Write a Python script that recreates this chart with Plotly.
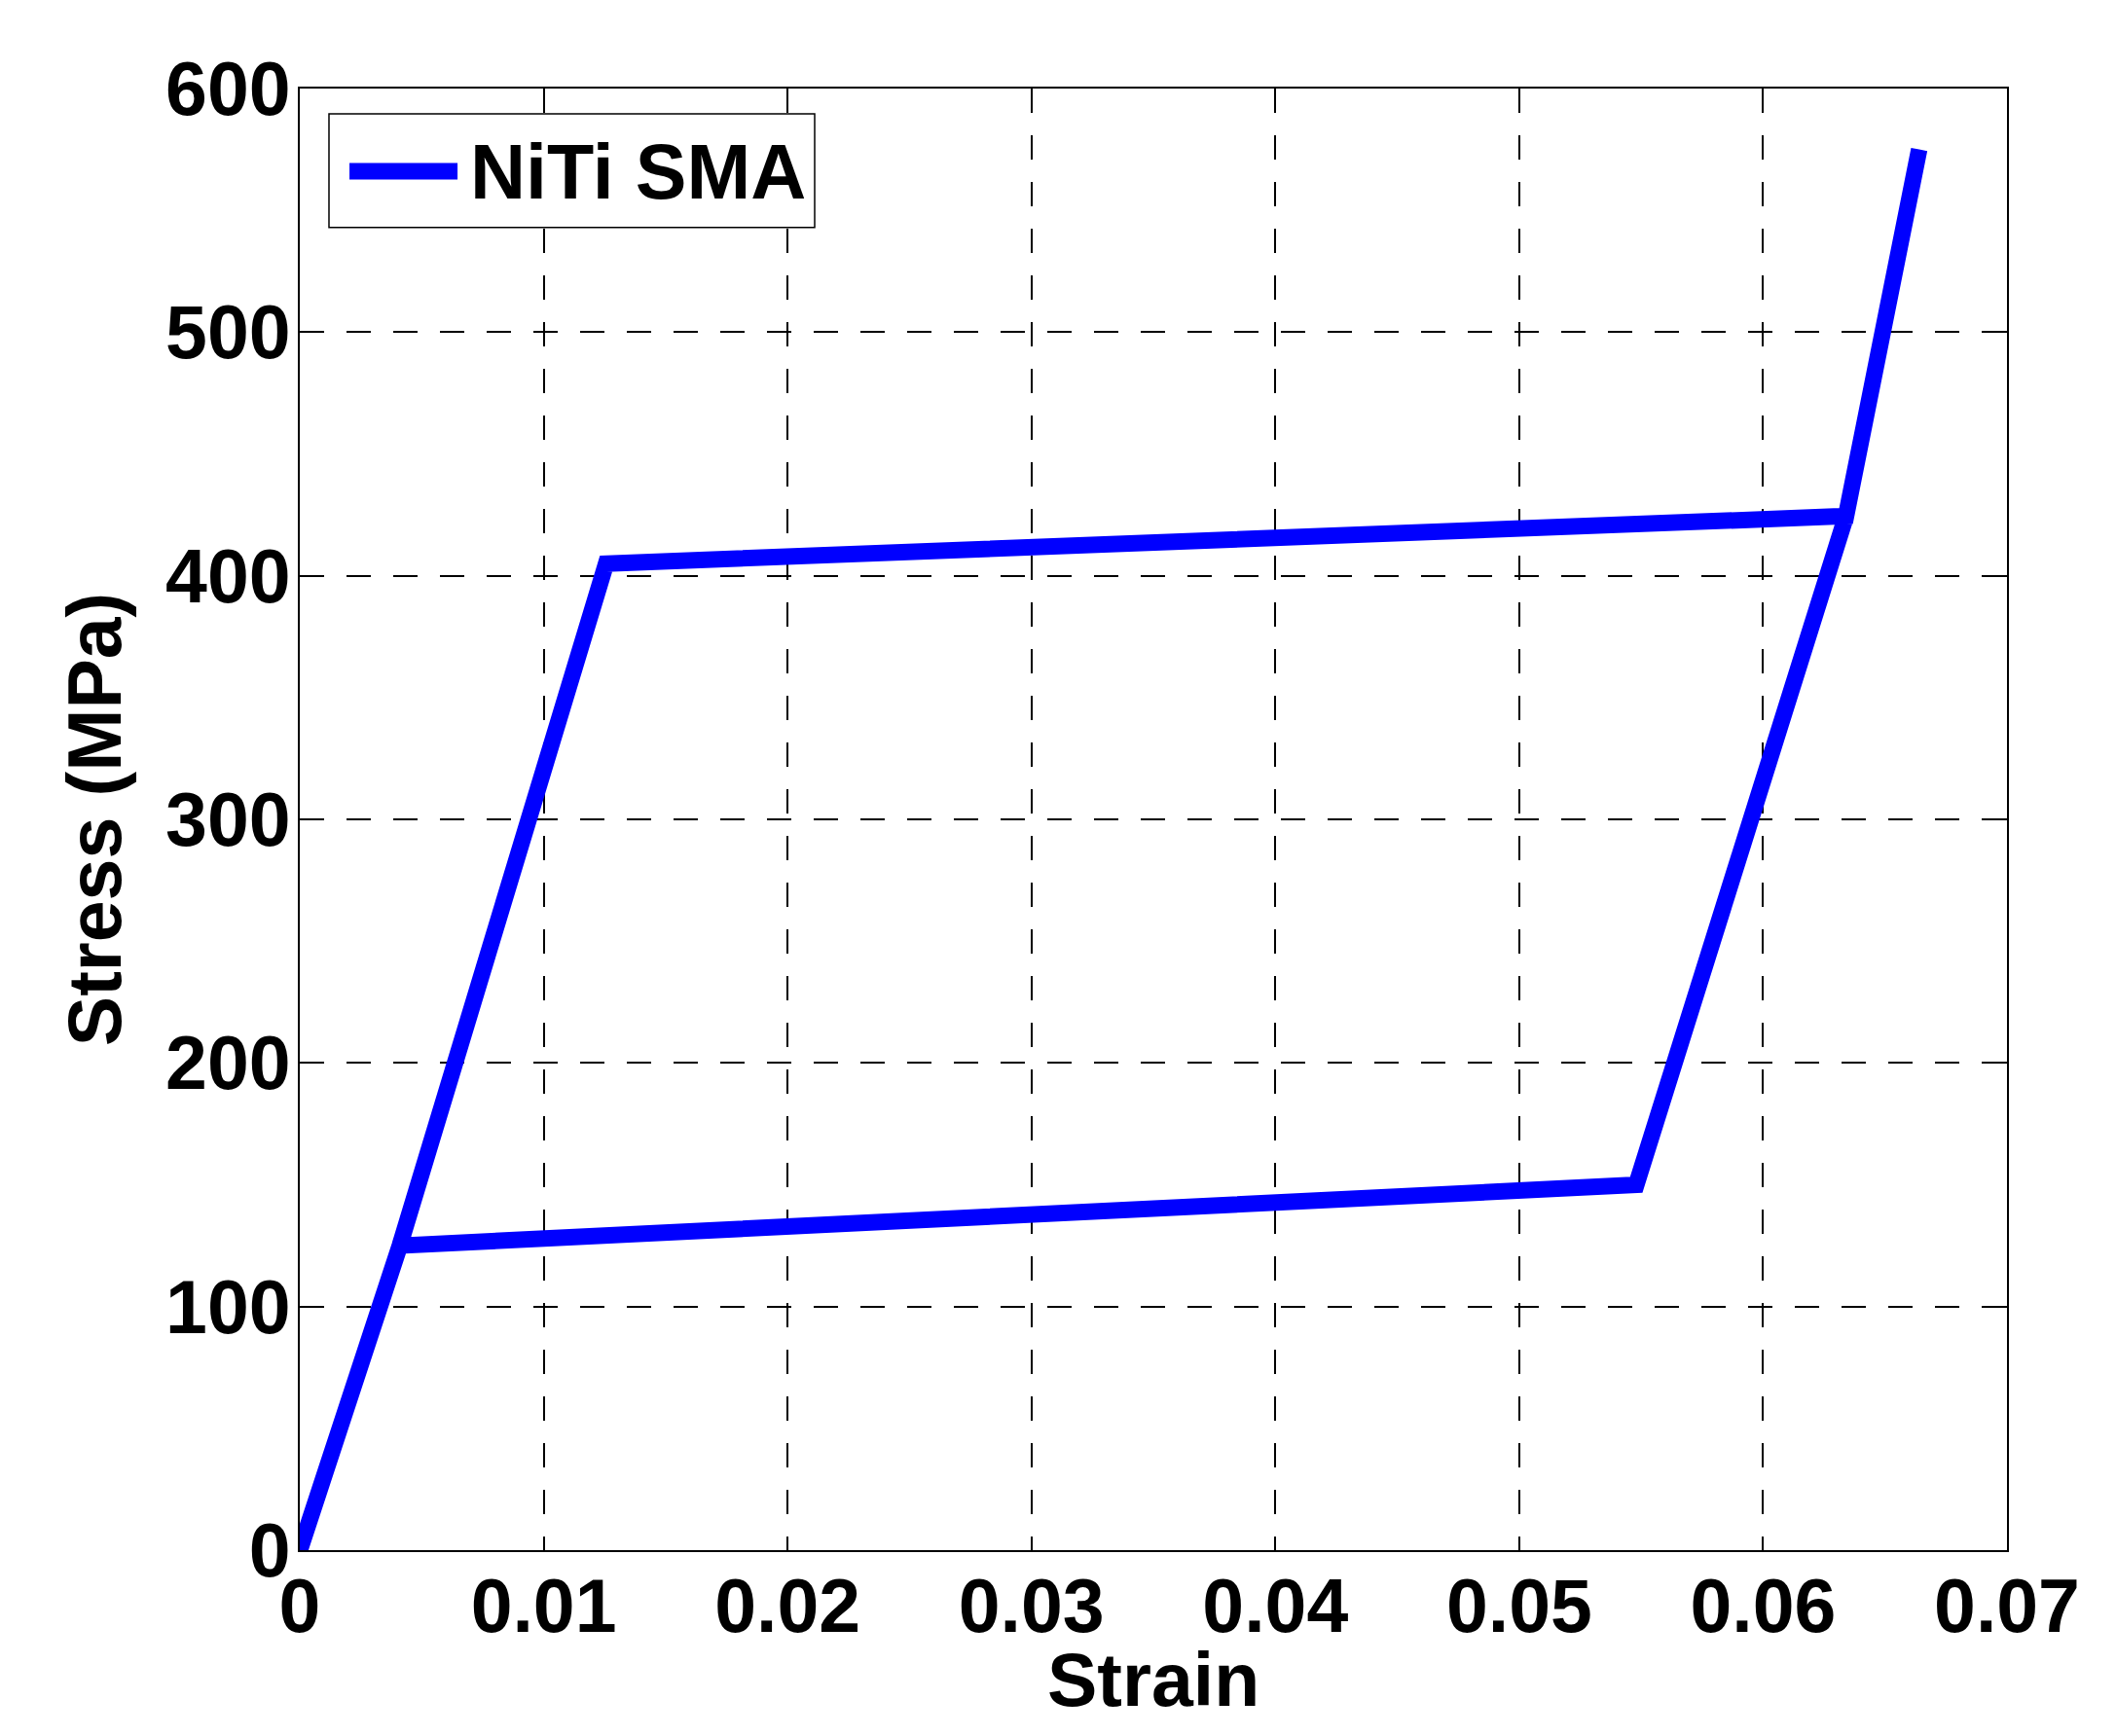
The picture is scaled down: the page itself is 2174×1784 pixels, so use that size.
import plotly.graph_objects as go

# hysteresis loop of the superelastic NiTi SMA (strain, stress in MPa)
strain = [0.0, 0.0041, 0.01256, 0.0634, 0.0664, 0.0634, 0.0548, 0.0041, 0.0]
stress = [0.0, 125.0, 405.0, 424.5, 575.0, 424.5, 150.0, 125.0, 0.0]
series_name = "NiTi SMA"

x_ticks = [0, 0.01, 0.02, 0.03, 0.04, 0.05, 0.06, 0.07]
x_labels = ["0", "0.01", "0.02", "0.03", "0.04", "0.05", "0.06", "0.07"]
y_ticks = [0, 100, 200, 300, 400, 500, 600]

font_family = "Liberation Sans, Arial, sans-serif"
blue = "#0000ff"

fig = go.Figure()
fig.add_trace(go.Scatter(x=strain, y=stress, mode="lines", name=series_name,
                         line=dict(color=blue, width=17), showlegend=False))

axis_common = dict(
    showline=True, linecolor="black", linewidth=2, mirror="ticks",
    ticks="inside", ticklen=12, tickwidth=2, tickcolor="black",
    showgrid=True, gridcolor="black", gridwidth=1.5, griddash="25px,23px",
    zeroline=False,
    tickfont=dict(family=font_family, size=77, color="black", weight="bold"),
    title_font=dict(family=font_family, size=77, color="black", weight="bold"),
)

fig.update_xaxes(range=[0, 0.07], tickvals=x_ticks, ticktext=x_labels,
                 ticklabelstandoff=-10, **axis_common)
fig.update_yaxes(range=[0, 600], tickvals=y_ticks,
                 title_text="Stress (MPa)", title_standoff=20, ticklabelstandoff=-8,
                 **axis_common)

# x-axis title placed tight under the tick labels, as in the MATLAB figure
fig.add_annotation(text="Strain", xref="paper", yref="paper",
                   x=0.5, y=-0.0885, xanchor="center", yanchor="middle",
                   showarrow=False,
                   font=dict(family=font_family, size=77, color="black", weight="bold"))

# MATLAB-style legend box in the top-left corner
fig.add_shape(type="rect", xref="paper", yref="paper",
              x0=0.0171, x1=0.3016, y0=0.9049, y1=0.9827,
              line=dict(color="black", width=1.5), fillcolor="white")
fig.add_shape(type="line", xref="paper", yref="paper",
              x0=0.0291, x1=0.0924, y0=0.9434, y1=0.9434,
              line=dict(color=blue, width=17))
fig.add_annotation(text=series_name, xref="paper", yref="paper",
                   x=0.0985, y=0.9430, xanchor="left", yanchor="middle",
                   showarrow=False,
                   font=dict(family=font_family, size=79, color="black", weight="bold"))

fig.update_layout(
    width=2174, height=1784,
    margin=dict(l=300, r=120, t=83, b=199),
    paper_bgcolor="white", plot_bgcolor="white",
    showlegend=False,
)

fig.write_html("out.html")
